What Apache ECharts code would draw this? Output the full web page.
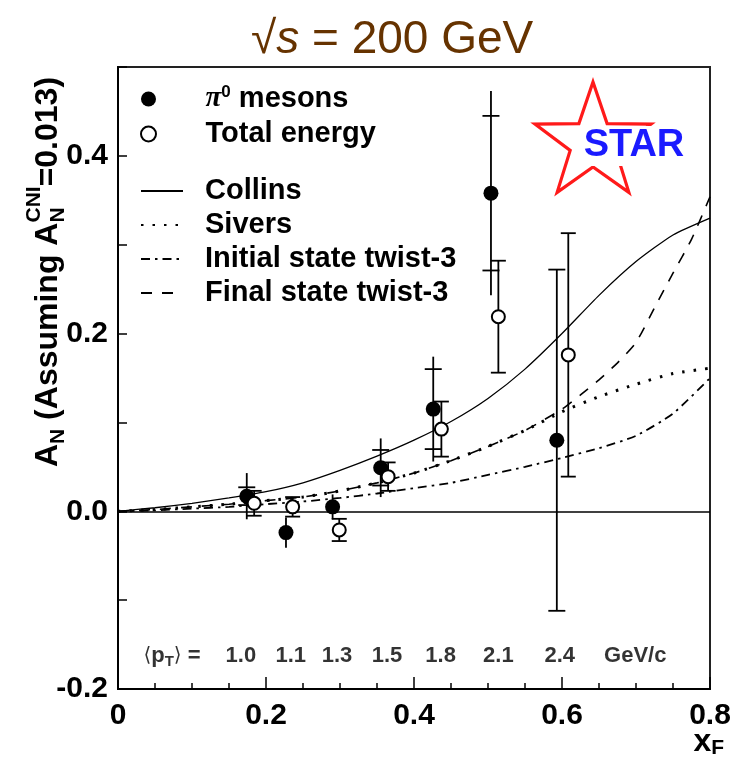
<!DOCTYPE html>
<html><head><meta charset="utf-8">
<script src="https://cdn.jsdelivr.net/npm/echarts@6/dist/echarts.min.js"></script>
<style>html,body{margin:0;padding:0;background:#fff}#c{width:736px;height:761px}</style>
</head><body><div id="c"></div>
<script>
// ---- data ----
const pi0X    = [0.174, 0.227, 0.290, 0.355, 0.426, 0.504, 0.593];
const pi0Y    = [0.017, -0.024, 0.005, 0.049, 0.115, 0.358, 0.080];
const pi0Stat = [0.010, 0.004, 0.004, 0.020, 0.045, 0.087, 0.192];
const pi0Tot  = [0.026, 0.017, 0.014, 0.033, 0.059, 0.115, 0.192];

const totX   = [0.184, 0.236, 0.299, 0.365, 0.437, 0.514, 0.6085];
const totY   = [0.009, 0.005, -0.021, 0.039, 0.0925, 0.219, 0.176];
const totErr = [0.014, 0.011, 0.0125, 0.016, 0.031, 0.063, 0.137];

const curveX   = [0, 0.05, 0.1, 0.15, 0.2, 0.25, 0.3, 0.35, 0.4, 0.45, 0.5, 0.55, 0.6, 0.65, 0.7, 0.75, 0.8];
const collinsY = [0, 0.004, 0.009, 0.015, 0.022, 0.032, 0.046, 0.062, 0.080, 0.101, 0.127, 0.160, 0.200, 0.243, 0.281, 0.311, 0.330];
const siversY  = [0, 0.002, 0.005, 0.008, 0.012, 0.016, 0.023, 0.032, 0.043, 0.057, 0.073, 0.091, 0.112, 0.129, 0.143, 0.155, 0.161];
const initialY = [0, 0.001, 0.003, 0.005, 0.008, 0.011, 0.015, 0.020, 0.026, 0.032, 0.041, 0.050, 0.060, 0.071, 0.085, 0.110, 0.150];
const finalX   = [0, 0.05, 0.1, 0.15, 0.2, 0.25, 0.3, 0.35, 0.4, 0.45, 0.5, 0.55, 0.6, 0.625, 0.65, 0.675, 0.7, 0.725, 0.75, 0.775, 0.8];
const finalY   = [0, 0.002, 0.005, 0.008, 0.012, 0.016, 0.023, 0.032, 0.043, 0.057, 0.073, 0.091, 0.115, 0.131, 0.148, 0.167, 0.190, 0.229, 0.268, 0.306, 0.354];

const pTValues = ['1.0', '1.1', '1.3', '1.5', '1.8', '2.1', '2.4'];
const pTLabelX = [0.166, 0.2335, 0.296, 0.3635, 0.436, 0.514, 0.597];
const pTRowY = -0.163;
const pTPrefixX = 0.073;
const pTUnitX = 0.699;

const xTicks = [0, 0.2, 0.4, 0.6, 0.8];
const yTickLabels = [-0.2, 0.0, 0.2, 0.4];

const seriesNames = ['π0 mesons', 'Total energy', 'Collins', 'Sivers', 'Initial state twist-3', 'Final state twist-3'];

// ---- chart ----
const FONT = '"Liberation Sans", Arial, Helvetica, sans-serif';
const chart = echarts.init(document.getElementById('c'), null, {renderer: 'canvas'});

const ctx = document.createElement('canvas').getContext('2d');
function tw(font, t) { ctx.font = font; return ctx.measureText(t).width; }

// y-axis title built from rotated text pieces
function yTitle() {
  const mainF = 'bold 32px ' + FONT, subF = 'bold 21px ' + FONT;
  const pieces = [];
  let x = 0;
  function put(t, f, dy) { pieces.push({t, f, x, dy}); return tw(f, t); }
  x += put('A', mainF, 0);
  x += put('N', subF, 10);
  x += put(' (Assuming ', mainF, 0);
  x += put('A', mainF, 0);
  const a = put('N', subF, 10), b = put('CNI', subF, -14);
  x += Math.max(a, b);
  x += put('=0.013)', mainF, 0);
  const L = x;
  return {
    type: 'group', x: 48, y: 272 + L / 2, rotation: Math.PI / 2,
    children: pieces.map(p => ({
      type: 'text', x: p.x, y: p.dy,
      style: {text: p.t, font: p.f, fill: '#000', textAlign: 'left', textVerticalAlign: 'middle', align: 'left', verticalAlign: 'middle'}
    }))
  };
}

function starPoints(cx, cy, R, r) {
  const pts = [];
  for (let i = 0; i < 10; i++) {
    const ang = -Math.PI / 2 + i * Math.PI / 5;
    const rad = i % 2 === 0 ? R : r;
    pts.push([cx + rad * Math.cos(ang), cy + rad * Math.sin(ang)]);
  }
  return pts;
}

function pi0Err(params, api) {
  const x = api.value(0), y = api.value(1), s = api.value(2), t = api.value(3);
  const c = api.coord([x, y]);
  const top = api.coord([x, y + t]), bot = api.coord([x, y - t]);
  const sT = api.coord([x, y + s]), sB = api.coord([x, y - s]);
  const hw = 8.5, st = {stroke: '#000', lineWidth: 1.8};
  const children = [
    {type: 'line', shape: {x1: top[0], y1: top[1], x2: bot[0], y2: bot[1]}, style: st}
  ];
  if (Math.abs(sT[1] - c[1]) > 6) {
    children.push({type: 'line', shape: {x1: sT[0] - hw, y1: sT[1], x2: sT[0] + hw, y2: sT[1]}, style: st});
    children.push({type: 'line', shape: {x1: sB[0] - hw, y1: sB[1], x2: sB[0] + hw, y2: sB[1]}, style: st});
  }
  return {type: 'group', children};
}
function totErrRender(params, api) {
  const x = api.value(0), y = api.value(1), e = api.value(2);
  const top = api.coord([x, y + e]), bot = api.coord([x, y - e]);
  const hw = 7.5, st = {stroke: '#000', lineWidth: 1.8};
  return {type: 'group', children: [
    {type: 'line', shape: {x1: top[0], y1: top[1], x2: bot[0], y2: bot[1]}, style: st},
    {type: 'line', shape: {x1: top[0] - hw, y1: top[1], x2: top[0] + hw, y2: top[1]}, style: st},
    {type: 'line', shape: {x1: bot[0] - hw, y1: bot[1], x2: bot[0] + hw, y2: bot[1]}, style: st}
  ]};
}

const pTData = pTValues.map((v, i) => ({value: [pTLabelX[i], pTRowY], name: v}));
pTData.push({value: [pTPrefixX, pTRowY], name: '__prefix'});
pTData.push({value: [pTUnitX, pTRowY], name: 'GeV/c'});

function legendText(padLeft) {
  return {
    fontFamily: FONT, fontSize: 29, fontWeight: 'bold', color: '#000', lineHeight: 30,
    padding: [0, 0, 0, padLeft],
    rich: {
      pi: {fontFamily: '"Liberation Serif", "DejaVu Serif", serif', fontStyle: 'italic', fontSize: 29, lineHeight: 30, verticalAlign: 'middle'},
      sup: {fontFamily: FONT, fontSize: 17, lineHeight: 17, verticalAlign: 'top', fontWeight: 'bold'},
      t: {fontFamily: FONT, fontSize: 29, fontWeight: 'bold', lineHeight: 30, verticalAlign: 'middle'}
    }
  };
}

const option = {
  animation: false,
  backgroundColor: '#fff',
  title: {
    text: '{a|√}{b|s}{a| = 200 GeV}',
    left: 246, top: 9,
    textStyle: {
      fontWeight: 'normal',
      rich: {
        a: {fontFamily: FONT, fontSize: 46, fontWeight: 'normal', color: '#663300', lineHeight: 52},
        b: {fontFamily: FONT, fontSize: 46, fontWeight: 'normal', color: '#663300', fontStyle: 'italic', lineHeight: 52}
      }
    }
  },
  grid: {left: 118, right: 26, top: 67, bottom: 72, show: true, borderColor: '#222', borderWidth: 2,
         backgroundColor: 'transparent', containLabel: false, outerBoundsMode: 'none'},
  legend: [
    {
      data: seriesNames.slice(0, 2), orient: 'vertical', left: 135, top: 79,
      itemWidth: 42, itemHeight: 15, itemGap: 5, selectedMode: false,
      formatter: n => n === 'π0 mesons' ? '{pi|π}{sup|0}{t| mesons}' : n,
      textStyle: legendText(31)
    },
    {
      data: seriesNames.slice(2), orient: 'vertical', left: 135, top: 171,
      itemWidth: 42, itemHeight: 15, itemGap: 4, selectedMode: false,
      itemStyle: {color: 'rgba(0,0,0,0)', borderColor: 'rgba(0,0,0,0)', borderWidth: 0},
      textStyle: legendText(17)
    }
  ],
  xAxis: {
    type: 'value', min: 0, max: 0.8, interval: 0.2,
    name: '{x|x}{s|F}', nameLocation: 'end', nameGap: 14, nameMoveOverlap: false,
    nameTextStyle: {align: 'right', verticalAlign: 'top', padding: [36, 0, 0, 0],
      rich: {x: {fontFamily: FONT, fontSize: 32, fontWeight: 'bold', color: '#000', lineHeight: 34, verticalAlign: 'middle'},
             s: {fontFamily: FONT, fontSize: 21, fontWeight: 'bold', color: '#000', lineHeight: 20, verticalAlign: 'bottom'}}},
    axisLine: {show: true, onZero: false, lineStyle: {color: '#000', width: 2}},
    axisTick: {show: true, inside: true, length: 12, lineStyle: {color: '#000', width: 1.5}},
    minorTick: {show: true, splitNumber: 4, length: 6, lineStyle: {color: '#000', width: 1.5}},
    splitLine: {show: false},
    axisLabel: {fontFamily: FONT, fontSize: 30, fontWeight: 'bold', color: '#000', margin: 12,
      formatter: v => xTicks.some(t => Math.abs(t - v) < 1e-9) ? (Math.abs(v) < 1e-9 ? '0' : v.toFixed(1)) : ''}
  },
  yAxis: {
    type: 'value', min: -0.2, max: 0.5, interval: 0.1,
    axisLine: {show: true, onZero: false, lineStyle: {color: '#000', width: 2}},
    axisTick: {show: true, inside: true, length: 9, lineStyle: {color: '#000', width: 1.5}},
    splitLine: {show: false},
    axisLabel: {fontFamily: FONT, fontSize: 30, fontWeight: 'bold', color: '#000', margin: 10,
      formatter: v => yTickLabels.some(t => Math.abs(t - v) < 1e-9) ? v.toFixed(1) : ''}
  },
  graphic: [
    yTitle(),
    {type: 'polygon', shape: {points: starPoints(593, 143, 61, 24)}, style: {fill: '#fff', stroke: '#ff1a1a', lineWidth: 3.2}, z: 1},
    {type: 'text', x: 634, y: 146, z: 2,
     style: {text: 'STAR', font: 'bold 38px ' + FONT, fill: '#1a1aff', textAlign: 'center', textVerticalAlign: 'middle', align: 'center', verticalAlign: 'middle',
             backgroundColor: '#fff', padding: [2, 1, 0, 1]}}
  ],
  series: [
    {
      name: 'Collins', type: 'line', data: curveX.map((x, i) => [x, collinsY[i]]),
      symbol: 'none', smooth: 0.2, itemStyle: {color: '#000'},
      lineStyle: {color: '#000', width: 1.3, type: 'solid'}, z: 3,
      markLine: {silent: true, symbol: 'none', label: {show: false},
        lineStyle: {color: '#000', width: 1.5, type: 'solid'}, data: [{yAxis: 0}]}
    },
    {
      name: 'Sivers', type: 'line', data: curveX.map((x, i) => [x, siversY[i]]),
      symbol: 'none', smooth: 0.2, itemStyle: {color: '#000'},
      lineStyle: {color: '#000', width: 3, type: [2.5, 9], cap: 'butt'}, z: 3
    },
    {
      name: 'Initial state twist-3', type: 'line', data: curveX.map((x, i) => [x, initialY[i]]),
      symbol: 'none', smooth: 0.2, itemStyle: {color: '#000'},
      lineStyle: {color: '#000', width: 1.8, type: [9, 5, 2.5, 5]}, z: 3
    },
    {
      name: 'Final state twist-3', type: 'line', data: finalX.map((x, i) => [x, finalY[i]]),
      symbol: 'none', smooth: 0.2, itemStyle: {color: '#000'},
      lineStyle: {color: '#000', width: 1.6, type: [11, 10]}, z: 3
    },
    {
      type: 'custom', renderItem: pi0Err, z: 4, silent: true,
      data: pi0X.map((x, i) => [x, pi0Y[i], pi0Stat[i], pi0Tot[i]]), encode: {x: 0, y: 1}
    },
    {
      type: 'custom', renderItem: totErrRender, z: 4, silent: true,
      data: totX.map((x, i) => [x, totY[i], totErr[i]]), encode: {x: 0, y: 1}
    },
    {
      name: 'π0 mesons', type: 'scatter', symbol: 'circle', symbolSize: 15, z: 5,
      itemStyle: {color: '#000', opacity: 1},
      data: pi0X.map((x, i) => [x, pi0Y[i]])
    },
    {
      name: 'Total energy', type: 'scatter', symbol: 'circle', symbolSize: 13, z: 5,
      itemStyle: {color: '#fff', borderColor: '#000', borderWidth: 2, opacity: 1},
      data: totX.map((x, i) => [x, totY[i]])
    },
    {
      type: 'scatter', symbolSize: 0, silent: true, z: 6,
      data: pTData,
      label: {
        show: true, position: 'inside', color: '#000',
        fontFamily: FONT, fontSize: 22, fontWeight: 'bold',
        formatter: p => p.name === '__prefix' ? '{br|⟨}{p|p}{s|T}{br|⟩}{p| =}' : p.name,
        rich: {
          br: {fontFamily: '"DejaVu Sans", sans-serif', fontSize: 20, fontWeight: 'normal', color: '#000', lineHeight: 26},
          p: {fontFamily: FONT, fontSize: 22, fontWeight: 'bold', color: '#000', lineHeight: 26},
          s: {fontFamily: FONT, fontSize: 15, fontWeight: 'bold', color: '#000', lineHeight: 14, verticalAlign: 'bottom'}
        }
      }
    }
  ]
};
chart.setOption(option);
</script>
</body></html>
